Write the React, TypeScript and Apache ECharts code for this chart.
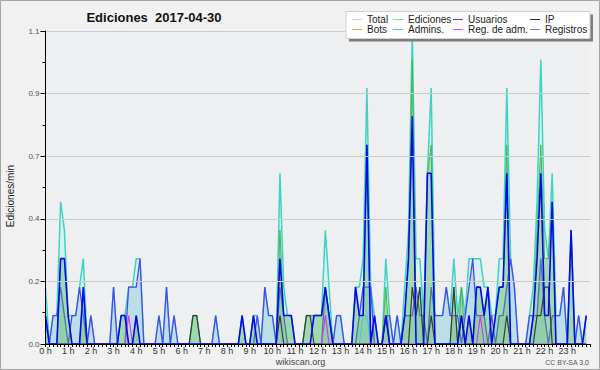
import React, { useEffect, useRef } from "react";
import * as echarts from "echarts";

// 10-minute bins (144 per day), values in edits per minute
const hourLabels = [
  "0 h", "1 h", "2 h", "3 h", "4 h", "5 h", "6 h", "7 h", "8 h", "9 h", "10 h", "11 h",
  "12 h", "13 h", "14 h", "15 h", "16 h", "17 h", "18 h", "19 h", "20 h", "21 h", "22 h", "23 h",
];

const total = [
  0.2, 0, 0.1, 0.1, 0.5, 0.4, 0.1, 0.1, 0.1, 0.2, 0.3, 0,
  0.1, 0, 0, 0, 0, 0, 0.2, 0, 0.1, 0.1, 0.2, 0.2,
  0.3, 0.3, 0, 0, 0, 0, 0.1, 0, 0.2, 0, 0.1, 0,
  0, 0, 0, 0.1, 0.1, 0, 0, 0, 0, 0.1, 0, 0,
  0, 0, 0, 0, 0.1, 0, 0, 0.1, 0.1, 0, 0.2, 0.1,
  0.1, 0, 0.6, 0.2, 0.1, 0.1, 0, 0, 0, 0.1, 0.1, 0.1,
  0.1, 0.1, 0.4, 0.2, 0, 0.1, 0.1, 0, 0, 0, 0.2, 0.2,
  0.3, 0.9, 0.2, 0.1, 0, 0, 0.3, 0.1, 0, 0.1, 0, 0.2,
  0.4, 1.1, 0.3, 0.3, 0.1, 0.6, 0.9, 0.1, 0.1, 0.1, 0.2, 0.1,
  0.3, 0.1, 0.2, 0.1, 0.3, 0.3, 0.3, 0.3, 0.2, 0.2, 0.1, 0.1,
  0.3, 0.3, 0.9, 0.3, 0.2, 0, 0, 0, 0.1, 0.2, 0.5, 1.0,
  0.4, 0.3, 0.6, 0.1, 0.1, 0.2, 0, 0.4, 0, 0.1, 0, 0.1,
];

const ediciones = [
  0.1, 0, 0, 0, 0.3, 0.3, 0.1, 0, 0, 0, 0.2, 0,
  0, 0, 0, 0, 0, 0, 0, 0, 0.1, 0.1, 0, 0,
  0.1, 0, 0, 0, 0, 0, 0, 0, 0, 0, 0, 0,
  0, 0, 0, 0.1, 0.1, 0, 0, 0, 0, 0, 0, 0,
  0, 0, 0, 0, 0.1, 0, 0, 0.1, 0, 0, 0, 0,
  0, 0, 0.4, 0.1, 0.1, 0.1, 0, 0, 0, 0.1, 0.1, 0.1,
  0.1, 0.1, 0.2, 0.1, 0, 0, 0, 0, 0, 0, 0.2, 0.1,
  0.1, 0.7, 0, 0.1, 0, 0, 0.2, 0, 0, 0, 0, 0.1,
  0.3, 1.0, 0.1, 0.2, 0, 0.6, 0.7, 0, 0, 0, 0, 0,
  0.2, 0, 0.2, 0, 0.1, 0, 0.2, 0.2, 0.1, 0.2, 0, 0.1,
  0.2, 0.2, 0.7, 0, 0, 0, 0, 0, 0, 0.1, 0.4, 0.7,
  0.3, 0.3, 0.5, 0, 0, 0, 0, 0.4, 0, 0, 0, 0.1,
];

const usuarios = [
  0.1, 0, 0, 0, 0.3, 0.3, 0.1, 0, 0, 0, 0.2, 0,
  0, 0, 0, 0, 0, 0, 0, 0, 0.1, 0.1, 0, 0,
  0.1, 0, 0, 0, 0, 0, 0, 0, 0, 0, 0, 0,
  0, 0, 0, 0, 0, 0, 0, 0, 0, 0, 0, 0,
  0, 0, 0, 0, 0.1, 0, 0, 0.1, 0, 0, 0, 0,
  0, 0, 0.3, 0.1, 0.1, 0.1, 0, 0, 0, 0, 0, 0.1,
  0.1, 0.1, 0.2, 0.1, 0, 0, 0, 0, 0, 0, 0.2, 0.1,
  0.1, 0.7, 0, 0.1, 0, 0, 0.1, 0, 0, 0, 0, 0.1,
  0.3, 0.8, 0, 0, 0, 0.6, 0.6, 0, 0, 0, 0, 0,
  0, 0, 0.1, 0, 0.1, 0, 0.2, 0.2, 0.1, 0.2, 0, 0.1,
  0.2, 0.2, 0.6, 0, 0, 0, 0, 0, 0, 0.1, 0.3, 0.6,
  0.1, 0.1, 0.5, 0, 0, 0, 0, 0.4, 0, 0, 0, 0.1,
];

const ip = [
  0, 0, 0, 0, 0, 0, 0, 0, 0, 0, 0, 0,
  0, 0, 0, 0, 0, 0, 0, 0, 0, 0, 0, 0,
  0, 0, 0, 0, 0, 0, 0, 0, 0, 0, 0, 0,
  0, 0, 0, 0.1, 0.1, 0, 0, 0, 0, 0, 0, 0,
  0, 0, 0, 0, 0, 0, 0, 0, 0, 0, 0, 0,
  0, 0, 0.1, 0, 0, 0, 0, 0, 0, 0.1, 0.1, 0,
  0, 0, 0, 0, 0, 0, 0, 0, 0, 0, 0, 0,
  0, 0, 0, 0, 0, 0, 0.1, 0, 0, 0, 0, 0,
  0, 0.2, 0.1, 0.2, 0, 0, 0.1, 0, 0, 0, 0, 0,
  0.2, 0, 0.1, 0, 0, 0, 0, 0, 0, 0, 0, 0,
  0, 0, 0.1, 0, 0, 0, 0, 0, 0, 0, 0.1, 0.1,
  0.2, 0.2, 0, 0, 0, 0, 0, 0, 0, 0, 0, 0,
];

const registros = [
  0.1, 0, 0.1, 0.1, 0.2, 0.1, 0, 0.1, 0.1, 0.2, 0.1, 0,
  0.1, 0, 0, 0, 0, 0, 0.2, 0, 0, 0, 0.2, 0.2,
  0.2, 0.3, 0, 0, 0, 0, 0.1, 0, 0.2, 0, 0.1, 0,
  0, 0, 0, 0, 0, 0, 0, 0, 0, 0.1, 0, 0,
  0, 0, 0, 0, 0, 0, 0, 0, 0.1, 0, 0.2, 0.1,
  0.1, 0, 0.2, 0.1, 0, 0, 0, 0, 0, 0, 0, 0,
  0, 0, 0.2, 0.1, 0, 0.1, 0.1, 0, 0, 0, 0, 0.1,
  0.2, 0.2, 0.2, 0, 0, 0, 0.1, 0.1, 0, 0.1, 0, 0.1,
  0.1, 0.1, 0.2, 0.1, 0.1, 0, 0.2, 0.1, 0.1, 0.1, 0.2, 0.1,
  0.1, 0.1, 0, 0.1, 0.2, 0.3, 0.1, 0.1, 0.1, 0, 0.1, 0,
  0.1, 0.1, 0.2, 0.3, 0.2, 0, 0, 0, 0.1, 0.1, 0.1, 0.3,
  0.1, 0, 0.1, 0.1, 0.1, 0.2, 0, 0, 0, 0.1, 0, 0,
];

const regAdm = [
  0, 0, 0, 0, 0, 0, 0, 0, 0, 0, 0, 0,
  0, 0, 0, 0, 0, 0, 0, 0, 0, 0, 0.1, 0,
  0, 0, 0, 0, 0, 0, 0, 0, 0, 0, 0, 0,
  0, 0, 0, 0, 0, 0, 0, 0, 0, 0, 0, 0,
  0, 0, 0, 0, 0, 0, 0, 0, 0, 0, 0, 0,
  0, 0, 0, 0, 0, 0, 0, 0, 0, 0, 0, 0,
  0, 0, 0.1, 0, 0, 0, 0, 0, 0, 0, 0, 0,
  0, 0, 0, 0, 0, 0, 0, 0, 0, 0, 0, 0,
  0, 0, 0, 0, 0, 0, 0, 0, 0, 0, 0, 0,
  0, 0, 0, 0, 0, 0, 0, 0.1, 0, 0, 0, 0,
  0, 0, 0, 0, 0, 0, 0, 0, 0, 0, 0, 0,
  0, 0, 0, 0, 0, 0, 0, 0, 0, 0, 0, 0,
];

const admins = [
  0, 0, 0, 0, 0, 0, 0, 0, 0, 0, 0, 0,
  0, 0, 0, 0, 0, 0, 0, 0, 0, 0, 0, 0,
  0, 0, 0, 0, 0, 0, 0, 0, 0, 0, 0, 0,
  0, 0, 0, 0, 0, 0, 0, 0, 0, 0, 0, 0,
  0, 0, 0, 0, 0, 0, 0, 0, 0, 0, 0, 0,
  0, 0, 0, 0, 0, 0, 0, 0, 0, 0, 0, 0,
  0, 0, 0, 0, 0, 0, 0, 0, 0, 0, 0, 0,
  0.1, 0.1, 0, 0, 0, 0, 0, 0, 0, 0, 0, 0,
  0, 0, 0, 0, 0, 0, 0, 0, 0, 0, 0, 0,
  0, 0, 0, 0, 0, 0, 0, 0, 0, 0, 0, 0,
  0, 0, 0, 0, 0, 0, 0, 0, 0, 0, 0, 0,
  0, 0, 0, 0, 0, 0, 0, 0, 0, 0, 0, 0,
];

const legendItems = [
  { name: "Total", color: "#a8e6e4" },
  { name: "Ediciones", color: "#8cd48c" },
  { name: "Usuarios", color: "#4444e6" },
  { name: "IP", color: "#303030" },
  { name: "Bots", color: "#f0a040" },
  { name: "Admins.", color: "#40c8e0" },
  { name: "Reg. de adm.", color: "#d048e0" },
  { name: "Registros", color: "#8080f0" },
];

const FONT = "Liberation Sans";

export default function App() {
  const ref = useRef<HTMLDivElement>(null);
  useEffect(() => {
    document.body.style.margin = "0";
    const chart = echarts.init(ref.current!, null, { renderer: "svg" });
    const pts = (arr: number[]) => arr.map((v, i) => [i, v]);
    const lineSeries = (name: string, data: number[], color: string, width: number, area?: string, z = 2) => ({
      name,
      type: "line",
      data: pts(data),
      symbol: "none",
      z,
      lineStyle: { color, width },
      areaStyle: area ? { color: area, opacity: 1 } : undefined,
      emphasis: { disabled: true },
    });

    const colX = [352, 393, 453, 530];
    const legendGraphics: any[] = [];
    legendItems.forEach((it, k) => {
      const col = k % 4;
      const row = Math.floor(k / 4);
      const y = 19.5 + row * 10;
      legendGraphics.push({
        type: "line",
        shape: { x1: colX[col], y1: y, x2: colX[col] + 10, y2: y },
        style: { stroke: it.color, lineWidth: 1 },
        z: 101,
      });
      legendGraphics.push({
        type: "text",
        x: colX[col] + 15,
        y,
        style: { text: it.name, font: `10px "${FONT}"`, fill: "#222", textVerticalAlign: "middle" },
        z: 101,
      });
    });

    chart.setOption({
      animation: false,
      backgroundColor: "#f1f1f1",
      grid: {
        left: 45.5,
        right: 10,
        top: 31,
        bottom: 26,
        show: true,
        backgroundColor: "#eeeff1",
        borderWidth: 0,
      },
      xAxis: {
        type: "value",
        min: 0,
        max: 144,
        interval: 6,
        z: 10,
        axisLine: { show: true, onZero: false, lineStyle: { color: "#000", width: 1 } },
        axisTick: { show: true, length: 3, lineStyle: { color: "#000" } },
        minorTick: { show: true, splitNumber: 6, length: 3, lineStyle: { color: "#000" } },
        splitLine: { show: false },
        axisLabel: {
          formatter: (v: number) => hourLabels[Math.round(v / 6)] ?? "",
          fontSize: 9,
          fontFamily: FONT,
          color: "#333",
          margin: 2,
          showMaxLabel: false,
        },
      },
      yAxis: {
        type: "value",
        min: 0,
        max: 1.1,
        interval: 0.22,
        z: 10,
        axisLine: { show: true, lineStyle: { color: "#000", width: 1 } },
        axisTick: { show: true, length: 5, lineStyle: { color: "#000" } },
        minorTick: { show: true, splitNumber: 2, length: 3, lineStyle: { color: "#000" } },
        splitLine: { show: true, lineStyle: { color: "#cbcbcb", width: 1 } },
        axisLabel: {
          formatter: (v: number) => v.toFixed(1),
          fontSize: 8,
          fontFamily: FONT,
          color: "#555",
          margin: 6,
        },
      },
      series: [
        lineSeries("Total", total, "#3cd4c4", 1.5, "rgba(205,243,236,0.7)", 2),
        lineSeries("Registros", registros, "#4a4af2", 1.3, "rgba(165,208,226,0.55)", 3),
        lineSeries("Ediciones", ediciones, "#4cb44c", 1, "rgba(80,180,80,0.4)", 4),
        lineSeries("Admins.", admins, "#40c8e0", 1, undefined, 5),
        lineSeries("Reg. de adm.", regAdm, "#d040e0", 1.2, undefined, 5),
        lineSeries("IP", ip, "#3a3a3a", 1.2, undefined, 6),
        lineSeries("Usuarios", usuarios, "#0808f0", 1.6, undefined, 7),
      ],
      graphic: [
        {
          type: "rect",
          shape: { x: 0.5, y: 0.5, width: 599, height: 369 },
          style: { fill: "none", stroke: "#a4a4a4", lineWidth: 1 },
          z: 100,
        },
        {
          type: "text",
          x: 154,
          y: 17,
          style: {
            text: "Ediciones  2017-04-30",
            font: `bold 13px "${FONT}"`,
            fill: "#111",
            textAlign: "center",
            textVerticalAlign: "middle",
          },
          z: 100,
        },
        {
          type: "text",
          x: 10,
          y: 196,
          rotation: Math.PI / 2,
          style: {
            text: "Ediciones/min",
            font: `10px "${FONT}"`,
            fill: "#222",
            textAlign: "center",
            textVerticalAlign: "middle",
          },
          z: 100,
        },
        {
          type: "rect",
          shape: { x: 349, y: 14.5, width: 244, height: 27 },
          style: { fill: "#7c7c7c" },
          z: 100,
        },
        {
          type: "rect",
          shape: { x: 346, y: 11.5, width: 244, height: 27 },
          style: { fill: "#ffffff", stroke: "#d0d0d0", lineWidth: 1 },
          z: 100,
        },
        ...legendGraphics,
        {
          type: "text",
          x: 300.5,
          y: 362,
          style: {
            text: "wikiscan.org",
            font: `9px "${FONT}"`,
            fill: "#444",
            textAlign: "center",
            textVerticalAlign: "middle",
          },
          z: 100,
        },
        {
          type: "text",
          x: 589,
          y: 362.5,
          style: {
            text: "CC BY-SA 3.0",
            font: `7px "${FONT}"`,
            fill: "#555",
            textAlign: "right",
            textVerticalAlign: "middle",
          },
          z: 100,
        },
      ],
    });
    return () => chart.dispose();
  }, []);
  return <div ref={ref} style={{ width: 600, height: 370 }} />;
}
